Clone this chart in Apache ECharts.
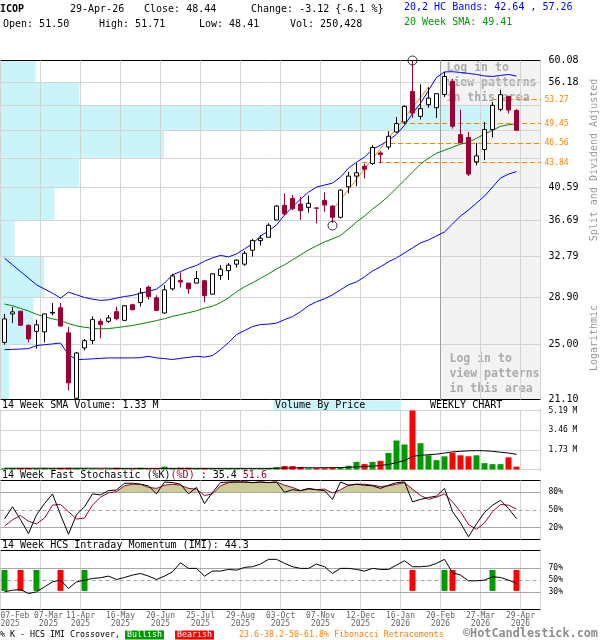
<!DOCTYPE html>
<html><head><meta charset="utf-8">
<script src="https://cdn.jsdelivr.net/npm/echarts@6/dist/echarts.min.js"></script>
<style>html,body{margin:0;padding:0;background:#fff}#c{width:600px;height:640px}</style>
</head><body><div id="c"></div>
<script>
// ---------------- DATA ----------------
const ticker = 'ICOP';
const lastDate = '29-Apr-26';
const tickLabels = ['07-Feb\n2025','07-Mar\n2025','11-Apr\n2025','16-May\n2025','20-Jun\n2025','25-Jul\n2025','29-Aug\n2025','03-Oct\n2025','07-Nov\n2025','12-Dec\n2025','16-Jan\n2026','20-Feb\n2026','27-Mar\n2026','29-Apr\n2026'];

const open = [25.17,27.48,27.70,26.53,26.04,26.00,27.55,28.01,25.92,21.18,
24.74,25.32,26.86,26.86,27.67,26.94,28.27,28.47,29.85,28.88,
27.56,29.69,30.47,30.22,30.22,30.44,29.21,30.94,31.41,32.04,
32.04,33.45,34.46,34.82,36.72,38.42,39.25,38.57,38.18,38.12,
39.01,38.34,37.03,40.68,42.05,43.36,43.72,45.17,46.01,48.19,
49.69,54.61,50.57,52.42,51.94,54.11,56.32,47.80,47.37,43.94,
45.65,48.54,51.67,53.78,51.50];
const high = [27.48,28.07,27.76,26.60,27.00,27.50,28.42,28.42,26.40,24.44,
25.43,27.27,27.06,27.39,28.10,28.24,28.36,29.75,29.97,29.12,
30.04,31.10,31.22,30.25,31.38,30.50,31.16,31.95,32.14,32.54,
33.38,34.64,35.07,36.35,38.46,39.86,39.66,39.45,39.62,38.14,
39.99,38.40,40.36,42.61,43.80,43.72,46.26,45.41,48.29,50.46,
52.31,60.08,55.80,55.34,54.25,57.96,56.78,51.62,48.19,46.58,
49.69,52.84,54.90,53.80,51.71];
const low = [24.99,26.73,26.50,25.17,24.69,25.17,27.36,26.45,21.71,21.10,
24.56,25.02,25.49,26.73,26.94,26.90,27.78,28.12,28.71,27.76,
27.50,29.54,29.81,29.24,30.20,28.51,29.18,30.53,30.53,31.71,
31.88,32.80,33.93,34.80,36.70,37.30,37.87,36.72,37.56,36.35,
37.67,36.40,36.90,39.86,40.77,41.75,43.50,43.72,45.65,48.04,
49.34,50.31,50.06,51.94,50.31,53.70,48.69,46.55,42.05,43.50,
44.17,47.37,51.35,50.99,48.41];
const close = [27.06,27.65,26.53,25.44,26.57,27.48,27.62,26.47,22.21,24.36,
25.30,27.00,26.59,27.14,27.08,28.18,27.84,29.30,29.00,27.78,
29.60,30.90,30.32,29.69,30.65,29.09,31.10,31.55,31.95,32.44,
33.14,34.46,34.71,36.13,38.34,37.41,38.02,37.79,38.66,38.08,
38.46,37.03,40.27,42.05,42.48,42.96,45.93,44.95,47.55,49.45,
52.15,51.08,51.78,53.50,54.23,57.19,49.04,46.58,42.31,44.76,
48.54,52.31,54.06,51.56,48.44];

const upperBand = [32.64,31.97,31.32,30.69,30.06,29.67,29.30,28.85,29.39,29.15,
28.91,28.76,28.65,28.71,28.85,29.00,29.09,29.30,29.45,29.67,
30.22,31.00,31.32,31.65,31.91,32.34,32.67,32.92,32.77,33.07,
33.59,34.11,34.96,35.50,36.16,37.29,38.22,39.17,40.02,40.65,
40.90,41.15,41.92,43.10,43.90,44.58,45.69,46.25,46.97,47.85,
49.19,51.04,52.63,54.78,57.02,58.00,58.04,57.90,57.73,57.55,
57.28,57.19,57.37,57.55,57.26];
const lowerBand = [24.61,24.63,24.66,24.69,24.92,24.99,25.05,25.12,24.23,23.87,
23.89,23.92,23.96,23.99,23.99,23.99,23.99,24.01,24.11,23.99,
23.94,23.87,23.96,24.03,24.11,24.05,24.16,24.61,25.15,25.78,
26.10,26.43,26.59,26.63,26.71,27.00,27.25,27.67,28.18,28.53,
28.79,29.15,29.60,30.06,30.34,30.81,31.38,31.78,32.27,32.67,
33.17,33.69,34.21,34.53,34.96,35.39,36.27,37.18,37.87,38.69,
39.53,40.65,41.79,42.31,42.64];
const sma20 = [28.33,28.18,27.95,27.73,27.44,27.25,27.06,26.92,26.67,26.48,
26.37,26.29,26.24,26.26,26.34,26.43,26.51,26.65,26.78,26.92,
27.08,27.27,27.42,27.58,27.75,27.97,28.14,28.45,28.88,29.42,
29.88,30.25,30.67,31.09,31.58,31.97,32.47,32.97,33.48,33.90,
34.32,34.64,35.01,35.72,36.49,37.18,37.98,38.69,39.53,40.52,
41.53,42.57,43.63,44.44,45.13,45.55,45.97,46.40,46.68,47.26,
47.85,48.44,49.04,49.27,49.41];

// volume in millions of shares
const volume = [0.12,0.12,0.13,0.12,0.10,0.12,0.10,0.13,0.14,0.12,
0.10,0.05,0.04,0.05,0.15,0.06,0.05,0.15,0.05,0.06,
0.25,0.10,0.15,0.15,0.08,0.12,0.08,0.08,0.08,0.07,
0.08,0.07,0.08,0.10,0.20,0.30,0.30,0.22,0.10,0.12,
0.12,0.15,0.15,0.33,0.67,0.48,0.67,0.76,1.45,2.55,
2.20,5.19,2.31,1.25,0.82,1.16,1.48,1.25,1.16,1.25,
0.56,0.47,0.47,1.07,0.250428];
const volumeSMA = [0.11,0.11,0.11,0.11,0.11,0.11,0.11,0.11,0.11,0.11,
0.11,0.11,0.11,0.11,0.10,0.10,0.10,0.10,0.10,0.10,
0.10,0.10,0.10,0.10,0.10,0.10,0.10,0.10,0.10,0.10,
0.10,0.10,0.10,0.10,0.11,0.13,0.14,0.15,0.15,0.15,
0.16,0.16,0.17,0.19,0.23,0.26,0.30,0.35,0.44,0.62,
0.78,1.15,1.25,1.30,1.35,1.45,1.55,1.60,1.64,1.66,
1.65,1.60,1.52,1.45,1.33];
const volumeMax = 5.19;

const stochK = [34.7,55.5,33.6,10.1,41.8,61.0,77.3,41.8,9.0,41.8,
55.5,77.3,75.7,82.8,83.9,95.4,95.4,93.7,91.0,77.3,
97.5,96.4,93.7,77.3,88.3,60.9,80.0,96.4,97.5,97.5,
97.5,96.4,97.5,96.4,97.5,80.0,84.4,82.8,86.6,84.4,
82.8,68.0,97.5,92.0,93.7,92.0,91.0,86.6,92.0,96.4,
97.5,63.7,68.0,71.3,73.5,86.6,47.3,28.1,4.6,26.5,
46.0,58.0,66.4,52.7,35.4];
const stochD = [22.7,33.6,40.7,30.9,26.5,36.3,58.2,59.3,47.3,34.7,
36.3,58.2,71.9,79.0,81.1,91.0,93.7,93.7,88.3,86.6,
92.0,93.7,92.0,86.6,85.5,74.6,77.3,91.0,96.4,97.5,
97.5,96.4,97.5,96.4,97.5,92.0,88.3,82.8,85.5,84.4,
85.5,79.0,84.4,92.0,93.7,93.7,92.0,89.9,91.0,93.7,
96.4,85.5,74.6,68.0,71.9,77.3,63.7,47.3,25.4,17.2,
28.1,47.3,59.3,58.2,51.6];
const imi = [29.9,32.7,33.9,27.0,29.9,38.4,46.9,49.8,35.6,46.9,
49.8,52.6,53.8,56.6,50.9,54.3,58.3,61.1,56.6,50.9,
56.6,63.9,79.3,69.7,69.7,56.6,65.1,65.1,67.9,66.8,
71.4,72.5,77.0,85.0,85.0,78.2,72.5,69.7,69.7,77.0,
72.5,61.1,69.7,69.7,67.9,65.1,69.7,67.9,67.9,75.3,
82.7,72.5,72.5,73.6,78.2,85.0,62.3,58.3,48.6,48.6,
49.8,55.5,54.3,49.8,44.3];
const bullishWeeks = [0, 4, 10, 55, 61];
const bearishWeeks = [2, 7, 51, 56, 64];
const crossoverRange = [31.5, 67];

// volume by price (price bands, relative volume in % of plot width)
const vbpLow  = [56.18, 52.28, 48.39, 44.49, 40.59, 36.69, 32.79, 28.90, 25.00, 21.10];
const vbpHigh = [60.08, 56.18, 52.28, 48.39, 44.49, 40.59, 36.69, 32.79, 28.90, 25.00];
const vbpVolume = [6.5, 14.6, 90.6, 30.3, 14.6, 10.0, 2.6, 8.1, 6.1, 1.6];

const priceTicks = [60.08, 56.18, 52.28, 48.39, 44.49, 40.59, 36.69, 32.79, 28.90, 25.00, 21.10];
const priceTickShown = [true, true, false, false, false, true, true, true, true, true, true];
const fibLevels = [53.27, 49.45, 46.56, 43.84];
const fibStartWeek = [60.9, 49.7, 48.2, 44.7];
const trendLine = [[41, 37.87], [53, 55.34]];
const extremeMarks = [[51, 60.08], [41, 36.10]];
const patternsHiddenFromWeek = 54.5;

// ---------------- CHART ----------------
const FONT = 'DejaVu Sans Mono';
const RED = '#990033';
const N = close.length;
const XMAX = 67.5;
const xw = i => i + 0.5;
const pairs = arr => arr.map((v, i) => [xw(i), v]);

const candleData = open.map((o, i) => [xw(i), o, close[i], low[i], high[i]]);
const volData = volume.map((v, i) => ({value: [xw(i), v], itemStyle: {color: close[i] < open[i] ? '#ff0000' : '#009900'}}));
const crossData = bullishWeeks.map(w => [xw(w), crossoverRange[0], crossoverRange[1], 1])
  .concat(bearishWeeks.map(w => [xw(w), crossoverRange[0], crossoverRange[1], 0]));
const vbpData = vbpVolume.map((v, k) => [v, vbpLow[k], vbpHigh[k]]);

const last = N - 1;
const chg = close[last] - close[last - 1];
const pct = chg / close[last - 1] * 100;

const dateLabelStyle = {color: '#666', fontFamily: FONT, fontSize: 8, lineHeight: 8.5, margin: 2, hideOverlap: false,
  rich: {p: {padding: [0, 0, 0, 16], color: '#666', fontFamily: FONT, fontSize: 8, lineHeight: 8.5}}};
function xAxisFor(gi, labelMode) {
  const ax = {
    type: 'value', gridIndex: gi, position: 'bottom', min: 0, max: XMAX, interval: 5,
    axisLine: {show: false}, axisTick: {show: false},
    splitLine: {show: labelMode !== 'first', lineStyle: {color: '#d4d4d4', width: 1}},
    axisLabel: {show: false}
  };
  if (labelMode === 'rest') {
    ax.axisLabel = Object.assign({show: true, showMinLabel: false, showMaxLabel: false,
      formatter: v => {
        const k = v / 5;
        if (!(k >= 1 && Number.isInteger(k) && tickLabels[k])) return '';
        // the second label sits a little right of its grid line, clear of the first one
        return k === 1 ? tickLabels[k].split('\n').map(s => '{p|' + s + '}').join('\n') : tickLabels[k];
      }}, dateLabelStyle);
  } else if (labelMode === 'first') {
    ax.axisLabel = Object.assign({show: true, alignMinLabel: 'left', showMinLabel: true, showMaxLabel: false,
      formatter: v => v === 0 ? tickLabels[0] : ''}, dateLabelStyle);
  }
  return ax;
}
function rightAxis(gi, extra) {
  return Object.assign({
    type: 'value', gridIndex: gi, position: 'right',
    axisLine: {show: false}, axisTick: {show: false}, splitLine: {show: false},
    axisLabel: {color: '#000', fontFamily: FONT, fontSize: 8, margin: 8}
  }, extra);
}
const gridBase = {show: true, borderColor: '#000', borderWidth: 1, backgroundColor: 'rgba(0,0,0,0)', containLabel: false, outerBoundsMode: 'none'};

function txt(x, y, text, o) {
  o = o || {};
  return {type: 'text', x: x, y: y, rotation: o.rotation || 0, z: 10,
    style: Object.assign({text: text, fill: o.color || '#000', fontFamily: FONT, fontSize: o.size || 10,
      fontWeight: o.weight || 'normal', align: o.align || 'left', verticalAlign: 'middle'}, o.style || {})};
}

const priceLineData = priceTicks.map((v, k) => ({
  yAxis: v,
  label: {show: priceTickShown[k], formatter: v.toFixed(2)},
  lineStyle: (k === 0 || k === priceTicks.length - 1) ? {color: 'rgba(0,0,0,0)'} : {}
})).concat([{xAxis: patternsHiddenFromWeek + 0.5, lineStyle: {color: '#a0a0a0'}, label: {show: false}}]);

const fibLineData = fibLevels.map((lv, k) => [
  {coord: [xw(fibStartWeek[k]), lv], label: {formatter: lv.toFixed(2)}},
  {coord: [XMAX, lv]}
]);

const option = {
  animation: false,
  backgroundColor: '#fff',
  grid: [
    Object.assign({left: 0.5, top: 60.5, width: 540, height: 339}, gridBase),
    Object.assign({left: 0.5, top: 410.5, width: 540, height: 59}, gridBase),
    Object.assign({left: 0.5, top: 480.5, width: 540, height: 59}, gridBase),
    Object.assign({left: 0.5, top: 550.5, width: 540, height: 59}, gridBase)
  ],
  xAxis: [
    xAxisFor(0),
    {type: 'value', gridIndex: 0, min: 0, max: 100, show: false},
    xAxisFor(1),
    xAxisFor(2),
    xAxisFor(3, 'rest'),
    xAxisFor(3, 'first')
  ],
  yAxis: [
    {type: 'log', gridIndex: 0, min: priceTicks[priceTicks.length - 1], max: priceTicks[0], show: false},
    rightAxis(1, {min: 0, max: volumeMax, interval: volumeMax / 3,
      axisLabel: {color: '#000', fontFamily: FONT, fontSize: 8, margin: 8,
        formatter: v => v > 0.01 ? v.toFixed(2) + ' M' : ''},
      splitLine: {show: true, lineStyle: {color: '#d4d4d4'}}}),
    rightAxis(2, {min: 0, max: 100, interval: 10,
      axisLabel: {color: '#000', fontFamily: FONT, fontSize: 8, margin: 8,
        formatter: v => [20, 50, 80].includes(Math.round(v)) ? Math.round(v) + '%' : ''}}),
    rightAxis(3, {min: 0, max: 100, interval: 10,
      axisLabel: {color: '#000', fontFamily: FONT, fontSize: 8, margin: 8,
        formatter: v => [30, 50, 70].includes(Math.round(v)) ? Math.round(v) + '%' : ''}})
  ],
  visualMap: [{
    type: 'piecewise', show: false, seriesIndex: 11, dimension: 1,
    pieces: [{gte: 80, lte: 100, color: '#cccc99'}],
    outOfRange: {color: 'rgba(255,255,255,0)'}
  }],
  series: [
    // 0: price grid lines, hidden-pattern area
    {type: 'line', xAxisIndex: 0, yAxisIndex: 0, data: [], silent: true,
      markArea: {z: -3, silent: true,
        label: {fontFamily: FONT, fontSize: 11.5, fontWeight: 'bold', color: '#ababab', lineHeight: 15},
        data: [
          [{xAxis: patternsHiddenFromWeek + 0.5, itemStyle: {color: '#f3f3f3'},
            label: {show: true, position: 'insideTopLeft', distance: 0, padding: [0, 0, 0, 6], formatter: 'Log in to\nview patterns\nin this area'}},
           {xAxis: XMAX}],
          [{xAxis: patternsHiddenFromWeek + 0.5, itemStyle: {color: 'rgba(0,0,0,0)'},
            label: {show: true, position: 'insideBottomLeft', distance: 3, padding: [0, 0, 0, 6], formatter: 'Log in to\nview patterns\nin this area'}},
           {xAxis: XMAX}]
        ]},
      markLine: {z: 1, silent: true, symbol: ['none', 'none'],
        lineStyle: {color: '#d4d4d4', width: 1, type: 'solid'},
        label: {show: true, position: 'end', distance: 8, color: '#000', fontFamily: FONT, fontSize: 10,
          padding: [0, 0, 7, 0]},
        data: priceLineData
      }},
    // 1: volume by price
    {type: 'custom', xAxisIndex: 1, yAxisIndex: 0, z: -2, silent: true, clip: true,
      encode: {x: 0, y: [1, 2]}, data: vbpData,
      renderItem: (params, api) => {
        const p1 = api.coord([0, api.value(2)]);
        const p2 = api.coord([api.value(0), api.value(1)]);
        return {type: 'rect', shape: {x: p1[0], y: p1[1], width: p2[0] - p1[0], height: p2[1] - p1[1]},
          style: {fill: '#c8f4fa'}};
      }},
    // 2-4: bands & SMA
    {type: 'line', xAxisIndex: 0, yAxisIndex: 0, data: pairs(upperBand), symbol: 'none', z: 2,
      lineStyle: {color: '#0000ff', width: 1}},
    {type: 'line', xAxisIndex: 0, yAxisIndex: 0, data: pairs(lowerBand), symbol: 'none', z: 2,
      lineStyle: {color: '#0000ff', width: 1}},
    {type: 'line', xAxisIndex: 0, yAxisIndex: 0, data: pairs(sma20), symbol: 'none', z: 2,
      lineStyle: {color: '#008800', width: 1}},
    // 5: trend line
    {type: 'line', xAxisIndex: 0, yAxisIndex: 0, data: trendLine.map(p => [xw(p[0]), p[1]]), symbol: 'none', z: 2,
      lineStyle: {color: '#ff8000', width: 1}},
    // 6: fibonacci lines
    {type: 'line', xAxisIndex: 0, yAxisIndex: 0, data: [], silent: true,
      markLine: {z: 2, silent: true, symbol: ['none', 'none'],
        lineStyle: {color: '#ff8000', width: 1, type: [5, 3]},
        label: {show: true, position: 'end', distance: 4, color: '#ff8000', fontFamily: FONT, fontSize: 8},
        data: fibLineData
      }},
    // 7: candles
    {type: 'candlestick', xAxisIndex: 0, yAxisIndex: 0, data: candleData, barWidth: 5, z: 3,
      itemStyle: {color: '#ffffff', color0: RED, borderColor: '#000000', borderColor0: RED, borderWidth: 1}},
    // 8: extreme marks
    {type: 'scatter', xAxisIndex: 0, yAxisIndex: 0, data: extremeMarks.map(p => [xw(p[0]), p[1]]), z: 4, clip: false,
      symbol: 'circle', symbolSize: 9, itemStyle: {color: 'rgba(0,0,0,0)', borderColor: '#000', borderWidth: 1}},
    // 9-10: volume
    {type: 'bar', xAxisIndex: 2, yAxisIndex: 1, data: volData, barWidth: 6, z: 2},
    {type: 'line', xAxisIndex: 2, yAxisIndex: 1, data: pairs(volumeSMA), symbol: 'none', z: 3,
      lineStyle: {color: '#000', width: 1}},
    // 11-13: stochastic
    {type: 'line', xAxisIndex: 3, yAxisIndex: 2, data: pairs(stochD), symbol: 'none', z: 1,
      lineStyle: {width: 0, opacity: 0}, areaStyle: {opacity: 1, origin: 'start'},
      markLine: {z: 2, silent: true, symbol: ['none', 'none'], label: {show: false},
        lineStyle: {color: '#a6a6a6', width: 1, type: 'solid'},
        data: [{yAxis: 80}, {yAxis: 50, lineStyle: {type: [4, 3]}}, {yAxis: 20}]}},
    {type: 'line', xAxisIndex: 3, yAxisIndex: 2, data: pairs(stochK), symbol: 'none', z: 4,
      lineStyle: {color: '#000', width: 1}},
    {type: 'line', xAxisIndex: 3, yAxisIndex: 2, data: pairs(stochD), symbol: 'none', z: 3,
      lineStyle: {color: RED, width: 1}},
    // 14-15: IMI
    {type: 'custom', xAxisIndex: 4, yAxisIndex: 3, z: 2, silent: true,
      encode: {x: 0, y: [1, 2]}, data: crossData,
      renderItem: (params, api) => {
        const top = api.coord([api.value(0), api.value(2)]);
        const bot = api.coord([api.value(0), api.value(1)]);
        return {type: 'rect', shape: {x: top[0] - 3, y: top[1], width: 6, height: bot[1] - top[1]},
          style: {fill: api.value(3) === 1 ? '#009900' : '#ff0000'}};
      },
      markLine: {z: 1, silent: true, symbol: ['none', 'none'], label: {show: false},
        lineStyle: {color: '#a6a6a6', width: 1, type: 'solid'},
        data: [{yAxis: 70}, {yAxis: 50, lineStyle: {type: [4, 3]}}, {yAxis: 30}]}},
    {type: 'line', xAxisIndex: 4, yAxisIndex: 3, data: pairs(imi), symbol: 'none', z: 4,
      lineStyle: {color: '#000', width: 1}}
  ],
  graphic: [
    txt(0, 9, ticker, {weight: 'bold'}),
    txt(70, 9, lastDate),
    txt(144, 9, 'Close: ' + close[last].toFixed(2)),
    txt(251, 9, 'Change: ' + chg.toFixed(2) + ' {' + pct.toFixed(1) + ' %}'),
    txt(3, 24, 'Open: ' + open[last].toFixed(2)),
    txt(99, 24, 'High: ' + high[last].toFixed(2)),
    txt(199, 24, 'Low: ' + low[last].toFixed(2)),
    txt(290, 24, 'Vol: ' + Math.round(volume[last] * 1e6).toLocaleString('en-US')),
    txt(404, 7, '20,2 HC Bands: ' + lowerBand[last].toFixed(2) + ' , ' + upperBand[last].toFixed(2), {color: '#0000ff'}),
    txt(404, 22, '20 Week SMA: ' + sma20[last].toFixed(2), {color: '#009900'}),
    txt(594, 160, 'Split and Dividend Adjusted', {color: '#999', rotation: Math.PI / 2, align: 'center'}),
    txt(594, 338, 'Logarithmic', {color: '#999', rotation: Math.PI / 2, align: 'center'}),
    {type: 'rect', shape: {x: 273, y: 400.5, width: 128, height: 9.5}, style: {fill: '#c8f4fa'}, z: 9},
    txt(275, 405, 'Volume By Price'),
    txt(2, 405, '14 Week SMA Volume: ' + volumeSMA[last].toFixed(2) + ' M'),
    txt(430, 405, 'WEEKLY CHART'),
    txt(2, 475, '14 Week Fast Stochastic (%K){r|(%D)} : ' + stochK[last].toFixed(1) + ' {r|' + stochD[last].toFixed(1) + '}',
      {style: {rich: {r: {fill: RED, fontFamily: FONT, fontSize: 10}}}}),
    txt(2, 545, '14 Week HCS Intraday Momentum (IMI): ' + imi[last].toFixed(1)),
    txt(0, 635, '% K - HCS IMI Crossover,', {size: 8.3}),
    txt(125, 635, 'Bullish', {size: 8.3, color: '#fff', style: {backgroundColor: '#009900', padding: [1, 2, 0, 2]}}),
    txt(175, 635, 'Bearish', {size: 8.3, color: '#fff', style: {backgroundColor: '#ff0000', padding: [1, 2, 0, 2]}}),
    txt(239, 635, '23.6-38.2-50-61.8% Fibonacci Retracements', {size: 8.3, color: '#ff8000'}),
    txt(463, 634, '\u00a9HotCandlestick.com', {size: 11.8, weight: 'bold', color: '#8c8c8c'})
  ]
};

const chart = echarts.init(document.getElementById('c'), null, {renderer: 'canvas'});
chart.setOption(option);
</script>
</body></html>
